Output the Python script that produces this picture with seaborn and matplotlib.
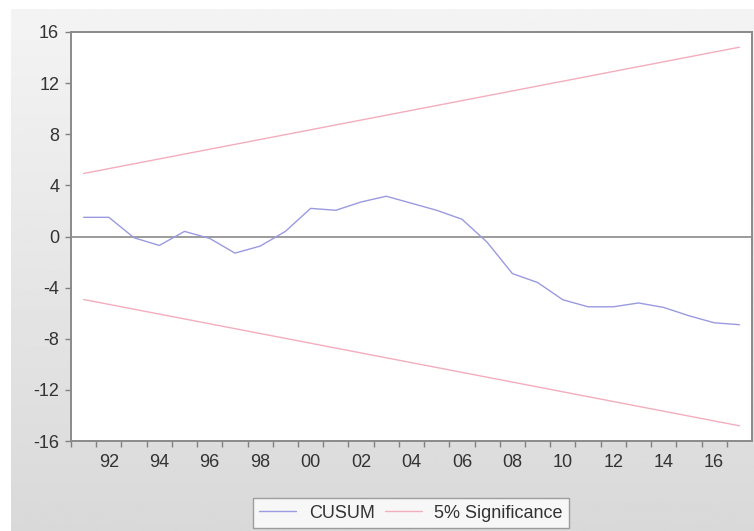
import numpy as np
import pandas as pd
import matplotlib
matplotlib.use("Agg")
import matplotlib.pyplot as plt
import seaborn as sns

# CUSUM test values, annual 1991-2017
years = list(range(1991, 2018))
cusum = [1.5, 1.5, -0.1, -0.7, 0.4, -0.15, -1.3, -0.75, 0.4, 2.2,
         2.05, 2.7, 3.15, 2.6, 2.05, 1.35, -0.45, -2.9, -3.6, -4.95,
         -5.5, -5.5, -5.2, -5.55, -6.2, -6.75, -6.9]
upper = [4.93, 5.31, 5.69, 6.07, 6.45, 6.83, 7.21, 7.59, 7.97, 8.35,
         8.73, 9.11, 9.49, 9.87, 10.25, 10.63, 11.01, 11.39, 11.77, 12.15,
         12.53, 12.91, 13.29, 13.67, 14.05, 14.43, 14.81]
lower = [-v for v in upper]
y_ticks = [-16, -12, -8, -4, 0, 4, 8, 12, 16]
x_labels = ["92", "94", "96", "98", "00", "02", "04", "06", "08", "10", "12", "14", "16"]

df = pd.DataFrame({"year": years, "CUSUM": cusum, "upper": upper, "lower": lower})

sns.set_style("white")
plt.rcParams["font.family"] = ["Liberation Sans", "DejaVu Sans"]

fig = plt.figure(figsize=(7.54, 5.31), dpi=100)
fig.patch.set_facecolor("white")

# gray gradient panel behind everything
bg = fig.add_axes([11 / 754, 0, 1 - 11 / 754, 522 / 531], zorder=-1)
grad = np.linspace(0.955, 0.85, 256).reshape(-1, 1)
bg.imshow(grad, aspect="auto", cmap="gray", vmin=0, vmax=1)
bg.axis("off")

ax = fig.add_axes([71 / 754, 90 / 531, 681 / 754, 409 / 531])
ax.set_facecolor("white")

blue = "#9a9ae0"
pink = "#f3aebd"
sns.lineplot(data=df, x="year", y="CUSUM", color=blue, lw=1.0, label="CUSUM", ax=ax)
sns.lineplot(data=df, x="year", y="upper", color=pink, lw=1.0, label="5% Significance", ax=ax)
sns.lineplot(data=df, x="year", y="lower", color=pink, lw=1.0, label="_nolegend_", ax=ax)
ax.axhline(0, color="#8a8a8a", lw=1.2, zorder=1)

ax.set_xlim(1990.5, 2017.5)
ax.set_ylim(-16, 16)
ax.set_yticks(y_ticks)
ax.set_yticklabels([str(v) for v in y_ticks])
ax.set_xticks(list(range(1992, 2017, 2)))
ax.set_xticklabels(x_labels)
ax.set_xticks([y + 0.5 for y in range(1990, 2017)], minor=True)
ax.tick_params(axis="x", which="major", length=0, pad=9.5, labelsize=13, colors="#333333")
ax.tick_params(axis="x", which="minor", length=4, width=1, color="#808080", direction="out")
ax.tick_params(axis="y", which="major", length=4.5, width=1, color="#808080", pad=4,
               labelsize=13, labelcolor="#333333", direction="out")
ax.xaxis.set_ticks_position("bottom")
ax.yaxis.set_ticks_position("left")
ax.set_xlabel("")
ax.set_ylabel("")
for s in ax.spines.values():
    s.set_color("#8a8a8a")
    s.set_linewidth(1.4)

leg = ax.legend(loc="center", bbox_to_anchor=(411 / 754, 18 / 531), bbox_transform=fig.transFigure,
                ncol=2, fontsize=13, frameon=True, fancybox=False, handlelength=2.05,
                columnspacing=0.55, handletextpad=0.7, borderpad=0.35)
leg.get_frame().set_edgecolor("#8a8a8a")
leg.get_frame().set_linewidth(1.0)
for t in leg.get_texts():
    t.set_color("#333333")

fig.savefig("out.png", dpi=100)
